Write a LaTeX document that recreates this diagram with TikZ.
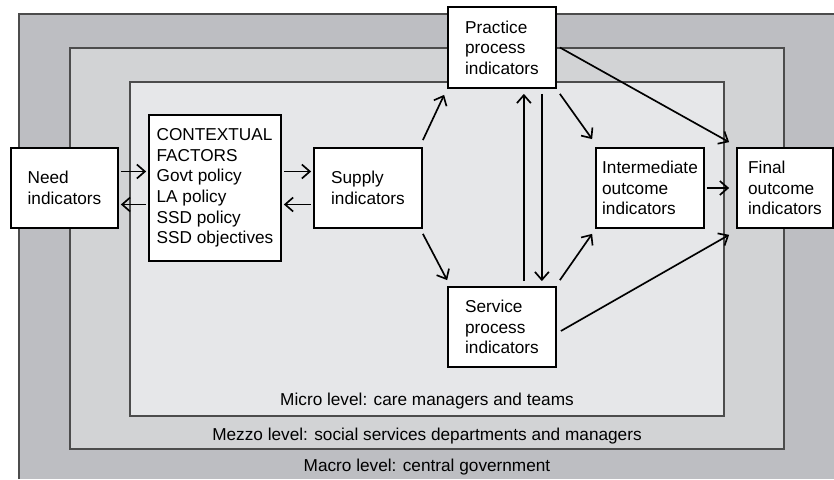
\documentclass[tikz,border=0pt]{standalone}
\usepackage{fontspec}
\setmainfont{Liberation Sans}
\usetikzlibrary{arrows.meta}
\definecolor{macrogrey}{RGB}{189,190,194}
\definecolor{mezzogrey}{RGB}{210,211,213}
\definecolor{microgrey}{RGB}{230,231,233}
\tikzset{
  every node/.style={font=\fontsize{9.8}{11.7}\selectfont},
  indbox/.style={draw, line width=1pt, fill=white, align=left,
    minimum width=2.16cm, minimum height=1.6cm, inner sep=0pt},
  arr/.style={-{Straight Barb[length=1.6mm,width=2.8mm]}, line width=0.95pt},
  level/.style={draw=black!70, line width=0.7pt}
}
\begin{document}
\begin{tikzpicture}
\useasboundingbox (0,0) rectangle (16.68,9.58);

\fill[macrogrey] (0.38,0) rectangle (16.68,9.30);
\draw[level] (0.38,0) |- (16.68,9.30);
\draw[level,fill=mezzogrey] (1.40,0.60) rectangle (15.68,8.62);
\draw[level,fill=microgrey] (2.60,1.26) rectangle (14.48,7.94);

\node (microlbl) at (8.54,1.56) {Micro level: care managers and teams};
\node (mezzolbl) at (8.54,0.86) {Mezzo level: social services departments and managers};
\node (macrolbl) at (8.54,0.24) {Macro level: central government};

\node[indbox,minimum width=2.14cm] (need) at (1.29,5.82) {Need\\indicators};
\node[indbox,minimum width=2.64cm,minimum height=2.92cm] (ctx) at (4.30,5.82)
  {CONTEXTUAL\\FACTORS\\Govt policy\\LA policy\\SSD policy\\SSD objectives};
\node[indbox] (supply) at (7.36,5.82) {Supply\\indicators};
\node[indbox,minimum height=1.62cm] (prac) at (10.04,8.63) {Practice\\process\\indicators};
\node[indbox] (serv) at (10.04,3.04) {Service\\process\\indicators};
\node[indbox] (inter) at (13.00,5.82) {Intermediate\\outcome\\indicators};
\node[indbox,minimum width=1.92cm] (final) at (15.70,5.82) {Final\\outcome\\indicators};

\draw[arr,shorten <=0.04cm,shorten >=0.04cm] ([yshift=0.33cm]need.east) -- ([yshift=0.33cm]ctx.west);
\draw[arr,shorten <=0.04cm,shorten >=0.04cm] ([yshift=-0.33cm]ctx.west) -- ([yshift=-0.33cm]need.east);
\draw[arr,shorten <=0.04cm,shorten >=0.04cm] ([yshift=0.33cm]ctx.east) -- ([yshift=0.33cm]supply.west);
\draw[arr,shorten <=0.04cm,shorten >=0.04cm] ([yshift=-0.33cm]supply.west) -- ([yshift=-0.33cm]ctx.east);

\draw[arr] ([yshift=0.14cm]supply.north east) -- ([shift={(-0.06cm,-0.12cm)}]prac.south west);
\draw[arr] ([yshift=-0.10cm]supply.south east) -- ([yshift=0.12cm]serv.north west);

\draw[arr] ([shift={(-0.66cm,0.10cm)}]serv.north east) -- ([shift={(-0.66cm,-0.10cm)}]prac.south east);
\draw[arr] ([shift={(-0.30cm,-0.10cm)}]prac.south east) -- ([shift={(-0.30cm,0.10cm)}]serv.north east);

\draw[arr] ([shift={(0.06cm,-0.10cm)}]prac.south east) -- ([shift={(-0.06cm,0.16cm)}]inter.north west);
\draw[arr] ([shift={(0.06cm,0.12cm)}]serv.north east) -- ([shift={(-0.06cm,-0.10cm)}]inter.south west);

\draw[arr] ([xshift=0.06cm]prac.east) -- ([shift={(-0.14cm,0.10cm)}]final.north west);
\draw[arr] ([shift={(0.08cm,-0.08cm)}]serv.east) -- ([shift={(-0.14cm,-0.12cm)}]final.south west);
\draw[arr] ([xshift=0.04cm]inter.east) -- ([xshift=-0.14cm]final.west);
\end{tikzpicture}
\end{document}
